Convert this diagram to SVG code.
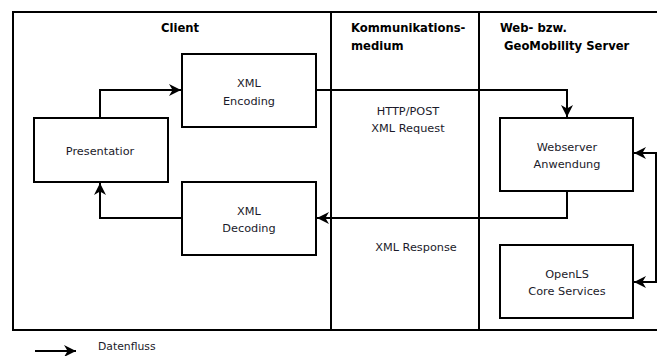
<svg xmlns="http://www.w3.org/2000/svg" width="657" height="356" viewBox="0 0 657 356">
<defs>
<marker id="ah" viewBox="0 0 10 10" refX="10" refY="5" markerWidth="6" markerHeight="6" orient="auto" markerUnits="strokeWidth">
<path d="M0,0 L10,5 L0,10 L3,5 Z" fill="#000"/>
</marker>
</defs>
<style>
.frame{fill:none;stroke:#000;stroke-width:2}
.box{fill:#fff;stroke:#000;stroke-width:2}
.t{font-family:"DejaVu Sans",sans-serif;font-size:11.3px;fill:#1a1a2a;text-anchor:middle}
.h{font-family:"DejaVu Sans",sans-serif;font-size:11.6px;font-weight:bold;fill:#000}
.c{fill:none;stroke:#000;stroke-width:2;marker-end:url(#ah)}
</style>
<rect width="657" height="356" fill="#fff"/>
<g id="frame">
<path class="frame" d="M660,12 H13 V330 H660"/>
<line class="frame" x1="331" y1="12" x2="331" y2="330"/>
<line class="frame" x1="479" y1="12" x2="479" y2="330"/>
<text class="h" x="180" y="32" text-anchor="middle">Client</text>
<text class="h" x="351" y="32">Kommunikations-</text>
<text class="h" x="351" y="50">medium</text>
<text class="h" x="500" y="32">Web- bzw.</text>
<text class="h" x="504" y="50">GeoMobility Server</text>
</g>
<g id="connectors">
<path class="c" d="M100,118 V90 H181"/>
<path class="c" d="M316,90 H567 V117"/>
<path class="c" d="M567,191 V218 H317"/>
<path class="c" d="M182,218 H100 V183"/>
<path class="c" d="M656,282 V153 H634"/>
<path class="c" d="M656,153 V282 H634"/>
<path class="c" d="M35,351 H76"/>
</g>
<g id="encoding">
<rect class="box" x="182" y="54" width="134" height="73"/>
<text class="t" x="249" y="87">XML</text>
<text class="t" x="249" y="105">Encoding</text>
</g>
<g id="presentation">
<rect class="box" x="34" y="118" width="134" height="64"/>
<text class="t" x="100" y="155">Presentatior</text>
</g>
<g id="decoding">
<rect class="box" x="182" y="182" width="134" height="73"/>
<text class="t" x="249" y="215">XML</text>
<text class="t" x="249" y="232">Decoding</text>
</g>
<g id="webserver">
<rect class="box" x="500" y="118" width="133" height="73"/>
<text class="t" x="567" y="151">Webserver</text>
<text class="t" x="567" y="168">Anwendung</text>
</g>
<g id="openls">
<rect class="box" x="500" y="245" width="133" height="73"/>
<text class="t" x="567" y="278">OpenLS</text>
<text class="t" x="567" y="295">Core Services</text>
</g>
<g id="labels">
<text class="t" x="408" y="115">HTTP/POST</text>
<text class="t" x="408" y="132">XML Request</text>
<text class="t" x="416" y="251">XML Response</text>
<text class="t" x="98" y="350" style="text-anchor:start;font-size:10.8px">Datenfluss</text>
</g>
</svg>
